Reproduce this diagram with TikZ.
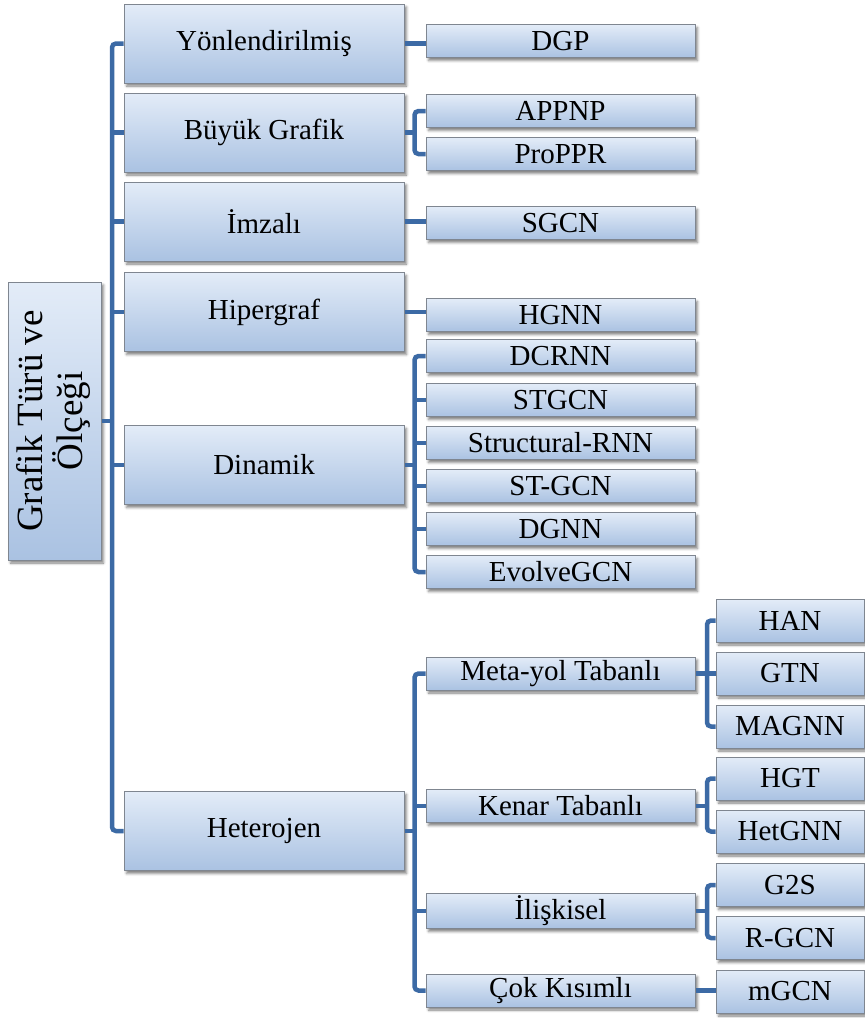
\documentclass[tikz,border=0pt]{standalone}
\usepackage{fontspec}
\setmainfont{Liberation Serif}
\usetikzlibrary{shadows.blur}
\definecolor{conncol}{HTML}{3C6AA5}
\definecolor{filltop}{HTML}{E3ECF8}
\definecolor{fillbot}{HTML}{AAC2E2}
\definecolor{boxline}{HTML}{7F8690}
\begin{document}
\begin{tikzpicture}[x=1pt,y=-1pt,
  box/.style={draw=boxline, line width=1pt, inner sep=0pt, top color=filltop, bottom color=fillbot,
    blur shadow={shadow xshift=2.5pt, shadow yshift=-3pt, shadow blur radius=2.5pt, shadow opacity=50},
    font=\fontsize{29}{30}\selectfont},
  lone/.style={box, minimum width=280pt, minimum height=79pt},
  ltwo/.style={box, minimum width=269pt, minimum height=33pt},
  lthree/.style={box, minimum width=148pt, minimum height=43pt},
  conn/.style={draw=conncol, line width=4.5pt, rounded corners=4pt}]
\useasboundingbox (0,0) rectangle (865,1018);

% root
\node[box, minimum width=93pt, minimum height=278pt] (root) at (54.5,421)
  {\rotatebox{90}{\fontsize{37}{35}\selectfont\begin{tabular}{@{}c@{}}Grafik Türü ve\\Ölçeği\end{tabular}}};

% level 1
\node[lone] (yon) at (264,43.5) {Yönlendirilmiş};
\node[lone] (buy) at (264,132.5) {Büyük Grafik};
\node[lone] (imz) at (264,221.5) {İmzalı};
\node[lone] (hip) at (264,312) {Hipergraf};
\node[lone] (din) at (264,465) {Dinamik};
\node[lone] (het) at (264,831) {Heterojen};

% level 2
\node[ltwo] (dgp) at (560.5,41) {DGP};
\node[ltwo] (appnp) at (560.5,111) {APPNP};
\node[ltwo] (proppr) at (560.5,154) {ProPPR};
\node[ltwo] (sgcn) at (560.5,223) {SGCN};
\node[ltwo] (hgnn) at (560.5,315) {HGNN};
\node[ltwo] (dcrnn) at (560.5,356) {DCRNN};
\node[ltwo] (stgcn) at (560.5,400) {STGCN};
\node[ltwo] (srnn) at (560.5,443) {Structural-RNN};
\node[ltwo] (stgcnb) at (560.5,486) {ST-GCN};
\node[ltwo] (dgnn) at (560.5,529) {DGNN};
\node[ltwo] (evo) at (560.5,572) {EvolveGCN};
\node[ltwo] (meta) at (560.5,673.5) {Meta-yol Tabanlı};
\node[ltwo] (ken) at (560.5,806) {Kenar Tabanlı};
\node[ltwo, minimum height=35pt] (ilis) at (560.5,911) {İlişkisel};
\node[ltwo] (cok) at (560.5,990.5) {Çok Kısımlı};

% level 3
\node[lthree] (han) at (790,620.5) {HAN};
\node[lthree] (gtn) at (790,673.5) {GTN};
\node[lthree] (magnn) at (790,726.5) {MAGNN};
\node[lthree] (hgt) at (790,778.5) {HGT};
\node[lthree] (hetgnn) at (790,831.5) {HetGNN};
\node[lthree] (gts) at (790,885) {G2S};
\node[lthree] (rgcn) at (790,938) {R-GCN};
\node[lthree] (mgcn) at (790,991.5) {mGCN};

% trunk coordinates
\coordinate (ta) at (112,0);
\coordinate (tb) at (414.5,0);
\coordinate (tc) at (707,0);

% root -> level 1
\draw[conn] (yon.west) -- (yon.west -| ta) -- (het.west -| ta) -- (het.west);
\draw[conn] (root.east) -- (root.east -| ta);
\foreach \n in {buy,imz,hip,din} {\draw[conn] (\n.west) -- (\n.west -| ta);}

% single children
\draw[conn] (yon.east) -- (dgp.west |- yon.east);
\draw[conn] (imz.east) -- (sgcn.west |- imz.east);
\draw[conn] (hip.east) -- (hgnn.west |- hip.east);
\draw[conn] (cok.east) -- (mgcn.west |- cok.east);

% Buyuk Grafik
\draw[conn] (appnp.west) -- (appnp.west -| tb) -- (proppr.west -| tb) -- (proppr.west);
\draw[conn] (buy.east) -- (buy.east -| tb);

% Dinamik
\draw[conn] (dcrnn.west) -- (dcrnn.west -| tb) -- (evo.west -| tb) -- (evo.west);
\draw[conn] (din.east) -- (din.east -| tb);
\foreach \n in {stgcn,srnn,stgcnb,dgnn} {\draw[conn] (\n.west) -- (\n.west -| tb);}

% Heterojen
\draw[conn] (meta.west) -- (meta.west -| tb) -- (cok.west -| tb) -- (cok.west);
\draw[conn] (het.east) -- (het.east -| tb);
\foreach \n in {ken,ilis} {\draw[conn] (\n.west) -- (\n.west -| tb);}

% Meta-yol
\draw[conn] (han.west) -- (han.west -| tc) -- (magnn.west -| tc) -- (magnn.west);
\draw[conn] (meta.east) -- (meta.east -| tc);
\draw[conn] (gtn.west) -- (gtn.west -| tc);

% Kenar
\draw[conn] (hgt.west) -- (hgt.west -| tc) -- (hetgnn.west -| tc) -- (hetgnn.west);
\draw[conn] (ken.east) -- (ken.east -| tc);

% Iliskisel
\draw[conn] (gts.west) -- (gts.west -| tc) -- (rgcn.west -| tc) -- (rgcn.west);
\draw[conn] (ilis.east) -- (ilis.east -| tc);
\end{tikzpicture}
\end{document}
